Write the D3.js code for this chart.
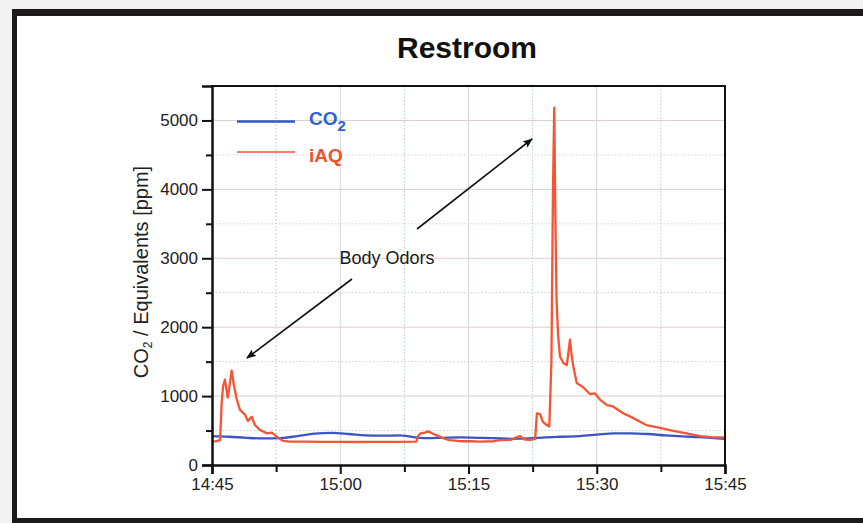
<!DOCTYPE html>
<html>
<head>
<meta charset="utf-8">
<script src="https://cdn.jsdelivr.net/npm/d3@7"></script>
<style>
  html, body { margin: 0; padding: 0; background: #f2f2f2; }
  svg { display: block; }
  text { font-family: "Liberation Sans", Arial, Helvetica, sans-serif; }
</style>
</head>
<body>
<svg id="chart" width="863" height="523"></svg>
<script>
// ---- data (minutes after 14:45, ppm) ----
const iaqMinutes = [0, 0.5, 0.95, 1.13, 1.3, 1.52, 1.84, 2.0, 2.3, 2.57, 2.9, 3.27, 3.86, 4.2, 4.64, 5.03, 5.6, 6.4, 7.0, 7.57, 8.3, 9.1,
  11, 13, 15, 17, 19, 21, 23.9, 24.1, 24.4, 24.9, 25.3, 25.7, 26.3, 27, 27.8, 29, 30.2, 31.3, 32.9, 33.7, 34.9, 36.0, 36.6, 37.2, 37.8,
  38.0, 38.36, 38.68, 39.15, 39.45, 39.7, 39.88, 40.03, 40.17, 40.3, 40.47, 40.7, 41.1, 41.5, 41.7, 41.87, 42.05, 42.26, 42.66,
  43.4, 44.2, 44.8, 45.4, 46.2, 46.9, 48.1, 49.3, 50.8, 52.4, 53.95, 55.5, 57.1, 58.6, 60];
const iaqPpm = [340, 345, 360, 900, 1150, 1240, 980, 1100, 1370, 1150, 950, 800, 730, 640, 700, 580, 510, 460, 470, 410, 350, 340,
  338, 335, 336, 334, 336, 335, 340, 420, 460, 470, 490, 460, 430, 390, 360, 345, 345, 340, 345, 360, 365, 420, 370, 365, 380,
  750, 740, 630, 580, 560, 1500, 4000, 5185, 3500, 2400, 1900, 1575, 1480, 1450, 1650, 1820, 1600, 1430, 1190,
  1130, 1030, 1040, 945, 870, 850, 750, 680, 580, 540, 495, 460, 420, 400, 400];

const co2Minutes = [0, 2, 4, 6, 8, 10, 12, 14, 16, 18, 20, 22, 23, 25, 27, 29, 31, 33, 35, 37, 39, 41, 43, 45, 47, 49, 51, 53, 55, 57, 60];
const co2Ppm = [420, 410, 395, 385, 390, 420, 455, 465, 450, 430, 425, 430, 415, 390, 395, 400, 395, 390, 380, 385, 400, 410, 420, 440, 460, 460, 450, 430, 415, 405, 380];

const yTickValues = [0, 1000, 2000, 3000, 4000, 5000];
const xTickLabels = ["14:45", "15:00", "15:15", "15:30", "15:45"];

// ---- setup ----
const svg = d3.select("#chart");
const t0 = new Date(2000, 0, 1, 14, 45);
const toDate = m => new Date(t0.getTime() + m * 60000);

const x = d3.scaleTime().domain([toDate(0), toDate(60)]).range([212, 725]);
const y = d3.scaleLinear().domain([0, 5500]).range([465, 86]);

// frame
svg.append("rect").attr("x", 12).attr("y", 9).attr("width", 851).attr("height", 514).attr("fill", "#fff");
svg.append("rect").attr("x", 12).attr("y", 9).attr("width", 851).attr("height", 7).attr("fill", "#1c1a1a");
svg.append("rect").attr("x", 12).attr("y", 9).attr("width", 5).attr("height", 514).attr("fill", "#1c1a1a");
svg.append("rect").attr("x", 12).attr("y", 518).attr("width", 851).attr("height", 5).attr("fill", "#1c1a1a");

// title
svg.append("text").attr("x", 467).attr("y", 58).attr("text-anchor", "middle")
  .attr("font-size", 30).attr("font-weight", "bold").attr("fill", "#111").text("Restroom");

// grid
const g = svg.append("g");
const vMinor = d3.range(7.5, 60, 15), vMajor = d3.range(15, 60, 15);
g.selectAll(".vmaj").data(vMajor).join("line")
  .attr("x1", d => x(toDate(d))).attr("x2", d => x(toDate(d))).attr("y1", y(5500)).attr("y2", y(0))
  .attr("stroke", "#cdd6e2").attr("stroke-width", 1);
g.selectAll(".vmin").data(vMinor).join("line")
  .attr("x1", d => x(toDate(d))).attr("x2", d => x(toDate(d))).attr("y1", y(5500)).attr("y2", y(0))
  .attr("stroke", "#b9c6d8").attr("stroke-width", 1).attr("stroke-dasharray", "1.5,2");
const hMajor = d3.range(1000, 5500, 1000), hMinor = d3.range(500, 5500, 1000);
g.selectAll(".hmaj").data(hMajor).join("line")
  .attr("x1", 212).attr("x2", 725).attr("y1", d => y(d)).attr("y2", d => y(d))
  .attr("stroke", "#dccfcc").attr("stroke-width", 1);
g.selectAll(".hmin").data(hMinor).join("line")
  .attr("x1", 212).attr("x2", 725).attr("y1", d => y(d)).attr("y2", d => y(d))
  .attr("stroke", "#cfcfd6").attr("stroke-width", 1).attr("stroke-dasharray", "1.5,2");

// lines
const line = d3.line().x(d => x(toDate(d[0]))).y(d => y(d[1]));
svg.append("path").datum(co2Minutes.map((m, i) => [m, co2Ppm[i]]))
  .attr("d", line.curve(d3.curveMonotoneX)).attr("fill", "none").attr("stroke", "#3a56c4").attr("stroke-width", 2.3);
svg.append("path").datum(iaqMinutes.map((m, i) => [m, iaqPpm[i]]))
  .attr("d", d3.line().x(d => x(toDate(d[0]))).y(d => y(d[1]))).attr("fill", "none")
  .attr("stroke", "#f45534").attr("stroke-width", 2.3).attr("stroke-linejoin", "round");

// plot frame top/right
svg.append("line").attr("x1", 211).attr("x2", 726).attr("y1", 86).attr("y2", 86).attr("stroke", "#111").attr("stroke-width", 2);
svg.append("line").attr("x1", 725).attr("x2", 725).attr("y1", 86).attr("y2", 465).attr("stroke", "#111").attr("stroke-width", 2);

// axes
const yAxis = d3.axisLeft(y).tickValues(yTickValues).tickSize(10).tickPadding(4).tickFormat(d3.format("d"));
const ya = svg.append("g").attr("transform", "translate(212,0)").call(yAxis);
const yMinorAxis = d3.axisLeft(y).tickValues(d3.range(500, 5500, 1000)).tickSize(6).tickFormat("");
const ym = svg.append("g").attr("transform", "translate(212,0)").call(yMinorAxis);
ym.select(".domain").remove();

const xTickDates = xTickLabels.map((s, i) => toDate(i * 15));
const xAxis = d3.axisBottom(x).tickValues(xTickDates).tickSize(9).tickPadding(4)
  .tickFormat((d, i) => xTickLabels[i]);
const xa = svg.append("g").attr("transform", "translate(0,465)").call(xAxis);
const xMinorAxis = d3.axisBottom(x).tickValues(vMinor.map(toDate)).tickSize(7).tickFormat("");
const xm = svg.append("g").attr("transform", "translate(0,465)").call(xMinorAxis);
xm.select(".domain").remove();

[ya, ym, xa, xm].forEach(a => {
  a.selectAll("line").attr("stroke", "#111").attr("stroke-width", 2);
  a.selectAll(".domain").attr("stroke", "#111").attr("stroke-width", 2.5);
  a.selectAll("text").attr("font-size", 17).attr("fill", "#222")
    .attr("font-family", '"Liberation Sans", Arial, sans-serif');
});

// y label
const yl = svg.append("text").attr("transform", "translate(148,272) rotate(-90)")
  .attr("text-anchor", "middle").attr("font-size", 20).attr("fill", "#222");
yl.append("tspan").text("CO");
yl.append("tspan").attr("font-size", 12).attr("dy", 4).text("2");
yl.append("tspan").attr("dy", -4).text(" / Equivalents [ppm]");

// legend
svg.append("line").attr("x1", 237).attr("x2", 295).attr("y1", 121.5).attr("y2", 121.5).attr("stroke", "#3a56c4").attr("stroke-width", 2.5);
const lt = svg.append("text").attr("x", 309).attr("y", 125).attr("font-size", 19).attr("font-weight", "bold").attr("fill", "#2e62d2");
lt.append("tspan").text("CO");
lt.append("tspan").attr("font-size", 15).attr("dy", 6).text("2");
svg.append("line").attr("x1", 237).attr("x2", 295).attr("y1", 152).attr("y2", 152).attr("stroke", "#f45534").attr("stroke-width", 1.5);
svg.append("text").attr("x", 309).attr("y", 162).attr("font-size", 19).attr("font-weight", "bold").attr("fill", "#f0502e").text("iAQ");

// annotation
svg.append("defs").append("marker").attr("id", "ah").attr("viewBox", "0 0 10 10")
  .attr("refX", 9).attr("refY", 5).attr("markerWidth", 10).attr("markerHeight", 10)
  .attr("markerUnits", "userSpaceOnUse").attr("orient", "auto")
  .append("path").attr("d", "M0,1 L10,5 L0,9 L2,5 Z").attr("fill", "#111");
svg.append("text").attr("x", 387).attr("y", 264).attr("text-anchor", "middle").attr("font-size", 18).attr("fill", "#1a1a1a").text("Body Odors");
svg.append("line").attr("x1", 417).attr("y1", 229).attr("x2", 532).attr("y2", 139).attr("stroke", "#111").attr("stroke-width", 1.6).attr("marker-end", "url(#ah)");
svg.append("line").attr("x1", 352).attr("y1", 279).attr("x2", 247).attr("y2", 358).attr("stroke", "#111").attr("stroke-width", 1.6).attr("marker-end", "url(#ah)");
</script>
</body>
</html>
